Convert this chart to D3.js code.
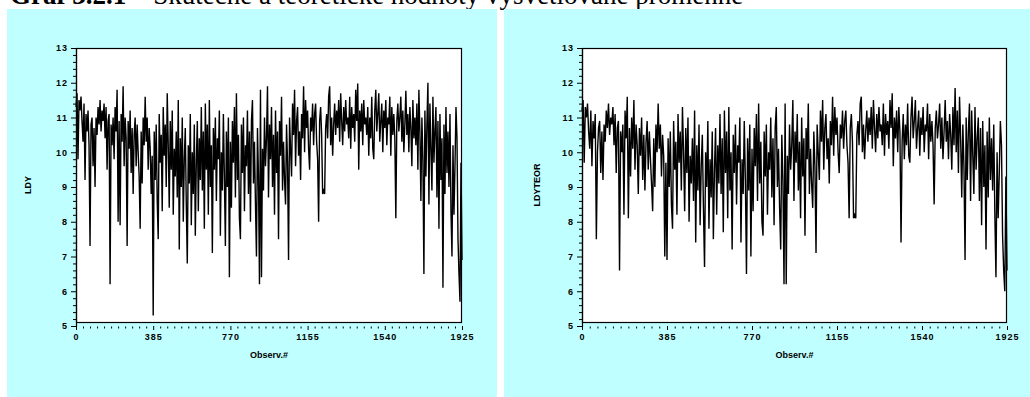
<!DOCTYPE html>
<html>
<head>
<meta charset="utf-8">
<script src="https://cdn.jsdelivr.net/npm/d3@7"></script>
<style>
  body { margin: 0; background: #fff; }
  svg { display: block; }
  .tick text { font-family: "Liberation Sans", Arial, sans-serif; font-weight: bold; font-size: 9px; letter-spacing: 1px; fill: #000; }
</style>
</head>
<body>
<svg id="chart" width="1030" height="397"></svg>
<script>
// title pieces
const titleBold = "Graf 3.2.1";
const titleRest = " – Skutečné a teoretické hodnoty vysvětlované proměnné";

// axes
const xTicks = [0, 385, 770, 1155, 1540, 1925];
const yTicks = [5, 6, 7, 8, 9, 10, 11, 12, 13];
const xLabel = "Observ.#";

// one value per 5 observations (0, 5, 10 ... 1925)
const obsStep = 5;

// actual values
const ldy = [
    11.3, 11.7, 9.8, 11.5, 11.2, 11.6, 10.9, 10.3, 11.4, 9.2,
    11.1, 10.6, 11.2, 10.2, 7.3, 10.8, 11.0, 9.6, 10.7, 9.0,
    11.0, 10.5, 11.3, 10.8, 11.5, 10.6, 11.2, 10.9, 11.4, 10.4,
    11.3, 9.5, 10.9, 11.1, 6.2, 10.8, 10.2, 11.0, 9.8, 11.3,
    10.6, 11.8, 8.0, 10.9, 7.9, 11.1, 10.3, 11.9, 9.6, 11.0,
    10.4, 7.3, 10.9, 10.1, 11.2, 9.4, 10.7, 8.8, 10.5, 11.0,
    9.6, 10.8, 10.0, 9.3, 7.8, 10.6, 9.1, 11.0, 10.2, 11.6,
    10.3, 11.0, 9.5, 10.7, 10.1, 8.8, 9.9, 5.3, 10.6, 9.2,
    10.8, 8.6, 7.5, 11.1, 9.7, 10.5, 8.3, 11.3, 9.9, 10.8,
    9.0, 11.7, 10.2, 8.4, 10.9, 9.5, 11.2, 8.2, 10.1, 9.3,
    10.6, 8.7, 11.5, 7.2, 10.4, 9.0, 11.0, 8.0, 9.8, 10.7,
    8.5, 6.8, 10.2, 9.1, 11.1, 7.9, 10.0, 8.8, 10.8, 7.6,
    9.7, 10.9, 8.3, 10.4, 9.2, 11.3, 8.9, 10.6, 7.8, 11.4,
    9.5, 10.8, 8.2, 11.5, 9.0, 10.2, 7.1, 10.7, 9.5, 11.0,
    8.6, 10.4, 9.8, 11.2, 7.6, 10.0, 8.9, 11.1, 9.3, 7.3,
    10.6, 9.0, 11.0, 6.4, 10.3, 8.4, 10.9, 9.7, 11.3, 8.7,
    11.7, 9.2, 10.5, 8.1, 7.5, 10.8, 9.4, 11.0, 8.3, 10.2,
    9.6, 11.2, 8.8, 10.6, 8.0, 10.9, 11.5, 9.1, 10.3, 8.5,
    7.0, 10.7, 9.3, 6.2, 11.8, 6.4, 10.1, 8.9, 11.0, 9.6,
    10.4, 11.9, 8.7, 10.8, 9.8, 11.3, 9.0, 10.5, 8.2, 11.2,
    9.4, 10.6, 7.5, 10.9, 9.9, 11.6, 8.9, 10.3, 9.2, 8.5,
    10.8, 9.7, 6.9, 11.0, 10.1, 9.3, 11.4, 10.5, 11.8, 9.6,
    10.9, 11.3, 9.9, 10.6, 9.2, 11.1, 10.4, 11.9, 10.0, 11.5,
    10.7, 11.2, 10.1, 9.5, 11.0, 10.6, 11.4, 10.2, 11.1, 11.4,
    10.3, 9.8, 8.0, 10.9, 11.3, 10.5, 8.8, 8.9, 8.8, 10.7,
    11.1, 10.4, 11.6, 11.9, 10.2, 11.0, 9.9, 10.8, 11.4, 10.5,
    11.2, 10.7, 11.5, 10.3, 11.7, 10.9, 10.2, 11.3, 10.6, 11.5,
    10.8, 11.0, 10.4, 11.6, 10.1, 11.3, 10.7, 11.1, 10.3, 11.8,
    10.9, 11.98, 9.5, 11.2, 10.6, 11.4, 10.2, 11.5, 10.8, 11.0,
    10.5, 11.3, 9.9, 11.0, 10.4, 11.6, 10.1, 9.8, 11.2, 11.8,
    10.6, 11.1, 11.7, 10.3, 10.9, 11.4, 10.0, 11.2, 10.7, 11.5,
    10.2, 11.0, 10.8, 11.6, 9.9, 11.3, 10.5, 11.1, 10.4, 8.1,
    10.9, 11.4, 10.6, 11.0, 11.6, 10.3, 11.2, 10.0, 10.8, 11.77,
    10.5, 11.1, 10.0, 11.3, 10.7, 9.6, 11.5, 10.4, 11.0, 10.2,
    11.4, 9.5, 11.8, 10.6, 8.6, 11.0, 9.8, 6.5, 11.2, 9.3,
    10.8, 12.0, 8.5, 11.4, 10.1, 8.9, 11.6, 9.7, 10.6, 11.3,
    8.7, 10.9, 7.8, 11.1, 9.2, 10.4, 6.1, 10.8, 8.8, 11.3,
    9.4, 10.6, 9.0, 11.1, 8.3, 7.0, 10.2, 8.2, 9.6, 11.3,
    10.4, 7.5, 6.5, 5.7, 9.7, 6.9
];

// theoretical (fitted) values
const ldyteor = [
    11.2, 11.5, 9.7, 11.3, 11.0, 11.4, 10.6, 10.1, 11.2, 9.6,
    10.9, 10.4, 11.1, 7.5, 10.0, 10.7, 10.9, 9.4, 10.6, 9.2,
    10.8, 10.3, 11.2, 10.7, 11.4, 10.5, 11.0, 10.8, 11.3, 10.2,
    11.1, 9.4, 10.7, 10.9, 6.6, 10.6, 10.0, 10.8, 8.2, 11.2,
    10.4, 11.6, 8.1, 10.7, 9.3, 11.0, 10.1, 11.5, 9.5, 10.8,
    10.2, 8.8, 10.7, 9.9, 11.0, 9.2, 10.5, 8.9, 10.3, 10.9,
    9.5, 10.6, 9.8, 9.1, 8.3, 10.4, 9.0, 10.8, 10.0, 11.4,
    10.1, 10.8, 9.3, 10.5, 9.9, 7.0, 9.7, 6.9, 10.4, 9.0,
    10.6, 8.5, 7.8, 10.9, 9.5, 10.3, 8.2, 11.1, 9.7, 10.6,
    8.9, 11.3, 10.0, 8.3, 10.7, 9.4, 11.0, 8.0, 9.9, 9.1,
    10.4, 8.6, 11.2, 7.4, 10.2, 8.9, 10.8, 7.9, 9.6, 10.5,
    8.4, 6.7, 10.0, 9.0, 10.9, 7.8, 9.8, 8.7, 10.6, 7.5,
    9.5, 10.7, 8.2, 10.2, 9.1, 11.1, 8.8, 10.4, 7.7, 11.2,
    9.4, 10.6, 8.1, 11.3, 8.9, 10.0, 7.2, 10.5, 9.4, 10.8,
    8.5, 10.2, 9.7, 11.0, 7.4, 9.8, 8.8, 10.9, 9.2, 6.5,
    10.4, 8.9, 10.8, 7.0, 10.1, 8.3, 10.7, 9.6, 11.1, 8.6,
    11.4, 9.1, 10.3, 8.0, 7.6, 10.6, 9.3, 10.8, 8.2, 10.0,
    9.5, 11.0, 8.7, 10.4, 7.9, 10.7, 11.3, 9.0, 10.1, 8.4,
    7.2, 10.5, 9.2, 6.2, 11.4, 6.2, 9.9, 8.8, 10.8, 9.5,
    10.2, 11.5, 8.6, 10.6, 9.7, 11.1, 8.9, 10.3, 8.1, 11.0,
    9.3, 10.4, 7.6, 10.7, 9.8, 11.4, 8.8, 10.1, 9.1, 8.4,
    10.6, 9.6, 7.1, 10.8, 10.0, 9.2, 11.2, 10.3, 11.5, 9.5,
    10.7, 11.1, 9.8, 10.4, 9.1, 10.9, 10.2, 11.6, 9.9, 11.3,
    10.5, 11.0, 10.0, 9.4, 10.8, 10.4, 11.2, 10.1, 10.9, 11.2,
    10.2, 9.7, 8.1, 10.7, 11.1, 10.3, 8.1, 8.2, 8.1, 10.5,
    10.9, 10.2, 11.4, 11.6, 10.0, 10.8, 9.8, 10.6, 11.2, 10.3,
    11.0, 10.5, 11.3, 10.1, 11.5, 10.7, 10.0, 11.1, 10.4, 11.3,
    10.6, 10.8, 10.2, 11.4, 9.9, 11.1, 10.5, 10.9, 10.1, 11.5,
    10.7, 11.7, 9.6, 11.0, 10.4, 11.2, 10.0, 11.3, 10.6, 7.4,
    10.3, 11.1, 9.8, 10.8, 10.2, 11.4, 9.9, 9.7, 11.0, 11.6,
    10.4, 10.9, 11.5, 10.1, 10.7, 11.2, 9.9, 11.0, 10.5, 11.3,
    10.0, 10.8, 10.6, 11.4, 9.8, 11.1, 10.3, 10.9, 10.2, 8.5,
    10.7, 11.2, 10.4, 10.8, 11.4, 10.1, 11.0, 9.8, 10.6, 11.5,
    10.3, 10.9, 9.8, 11.1, 10.5, 9.5, 11.3, 10.2, 11.85, 10.0,
    11.2, 9.4, 11.6, 10.4, 8.7, 10.8, 9.6, 6.9, 11.0, 9.2,
    10.6, 11.4, 8.6, 11.2, 9.9, 8.8, 11.3, 9.5, 10.4, 11.0,
    8.6, 10.7, 7.9, 10.9, 9.0, 10.2, 7.2, 10.6, 8.7, 11.0,
    9.2, 10.4, 8.9, 10.8, 8.2, 6.4, 10.0, 8.1, 9.4, 10.9,
    10.2, 7.6, 6.6, 6.0, 9.3, 6.6
];

const svg = d3.select("#chart");
const fontSans = "'Liberation Sans', Arial, sans-serif";

// title, mostly cut off by the top edge (as in the source page)
svg.append("text")
    .attr("x", 10)
    .attr("y", 4)
    .style("font-family", "'Liberation Serif', 'Times New Roman', serif")
    .style("font-size", "27px")
    .call(t => t.append("tspan").style("font-weight", "bold").text(titleBold))
    .call(t => t.append("tspan").text(titleRest));

function drawPanel(cfg) {
    const x = d3.scaleLinear()
        .domain([0, 1925])
        .range([cfg.left, cfg.right]);
    const y = d3.scaleLinear()
        .domain([5, 13])
        .range([326, 48]);

    // cyan background
    svg.append("rect")
        .attr("x", cfg.bgX)
        .attr("y", 9)
        .attr("width", cfg.bgW)
        .attr("height", 397 - 9)
        .attr("fill", "#c0ffff");

    // white plotting area
    svg.append("rect")
        .attr("x", cfg.left)
        .attr("y", 48)
        .attr("width", cfg.right - 1 - cfg.left)
        .attr("height", 322 - 48)
        .attr("fill", "#fff");

    const line = d3.line()
        .x((d, i) => x(i * obsStep))
        .y(d => y(d));

    svg.append("path")
        .datum(cfg.values)
        .attr("d", line)
        .attr("fill", "none")
        .attr("stroke", "#000")
        .attr("stroke-width", 1.4)
        .attr("stroke-linejoin", "miter");

    // frame
    svg.append("rect")
        .attr("x", cfg.left + 0.5)
        .attr("y", 48.5)
        .attr("width", cfg.right - 1 - cfg.left)
        .attr("height", 322 - 48)
        .attr("fill", "none")
        .attr("stroke", "#000")
        .attr("stroke-width", 1.2);

    // y axis: major + minor ticks
    svg.append("g")
        .attr("transform", `translate(${cfg.left}, 0)`)
        .call(d3.axisLeft(y).tickValues(yTicks).tickSize(5).tickSizeOuter(0).tickPadding(3).tickFormat(d3.format("d")))
        .call(g => g.select(".domain").attr("stroke-width", 1.2));
    const yMinor = d3.range(0, 41).map(k => 5 + k * 0.2).filter(v => Math.abs(v - Math.round(v)) > 0.01);
    svg.append("g")
        .attr("transform", `translate(${cfg.left}, 0)`)
        .call(d3.axisLeft(y).tickValues(yMinor).tickSize(3).tickFormat(""))
        .call(g => g.select(".domain").remove());

    // x axis sits a few px below the frame, no domain line
    svg.append("g")
        .attr("transform", "translate(0, 326)")
        .call(d3.axisBottom(x).tickValues(xTicks).tickSize(4).tickPadding(4).tickFormat(d3.format("d")))
        .call(g => g.select(".domain").remove());
    svg.append("g")
        .attr("transform", "translate(0, 326.5)")
        .call(d3.axisBottom(x).tickValues(d3.range(0, 1926, 35).filter(v => v % 385 !== 0)).tickSize(2).tickFormat(""))
        .call(g => g.select(".domain").remove());

    // axis labels
    svg.append("text")
        .text(xLabel)
        .attr("x", (cfg.left + cfg.right) / 2)
        .attr("y", 358)
        .style("font-family", fontSans)
        .style("font-weight", "bold")
        .style("font-size", "9px")
        .style("text-anchor", "middle");

    svg.append("text")
        .text(cfg.yLabel)
        .attr("transform", `translate(${cfg.yLabelX}, 185) rotate(270)`)
        .style("font-family", fontSans)
        .style("font-weight", "bold")
        .style("font-size", "9px")
        .style("text-anchor", "middle");
}

drawPanel({ bgX: 7, bgW: 490, left: 76, right: 462, yLabel: "LDY", yLabelX: 31, values: ldy });
drawPanel({ bgX: 504, bgW: 526, left: 582, right: 1007, yLabel: "LDYTEOR", yLabelX: 540, values: ldyteor });
</script>
</body>
</html>
